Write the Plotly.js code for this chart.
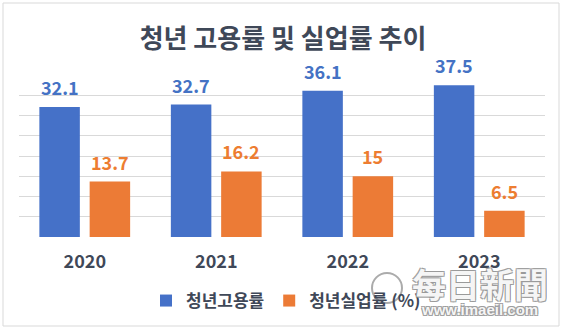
<!DOCTYPE html>
<html>
<head>
<meta charset="utf-8">
<script src="https://cdn.plot.ly/plotly-3.0.1.min.js"></script>
<style>
  html, body { margin: 0; padding: 0; background: #ffffff; }
  #chart { width: 566px; height: 331px; }
</style>
</head>
<body>
<div id="chart"></div>
<script>
// ---- data ----
const years = ['2020', '2021', '2022', '2023'];
const employmentRate = [32.1, 32.7, 36.1, 37.5];
const unemploymentRate = [13.7, 16.2, 15, 6.5];
const seriesNames = ['청년고용률', '청년실업률 (%)'];
const chartTitle = '청년 고용률 및 실업률 추이';

// ---- style ----
const KR = '"Noto Sans CJK KR", "Noto Sans", sans-serif';
const BLUE = '#4571c8';
const ORANGE = '#ec7b36';
const BLUE_TXT = '#4472c4';
const ORANGE_TXT = '#ed7d31';
const DARK = '#3f4858';
const W = 566, H = 331;
const M = {l: 19, r: 21, t: 75, b: 94};
const plotW = W - M.l - M.r, plotH = H - M.t - M.b;
const BARGAP = 0.235;
const slotShift = (1 - BARGAP) * (plotW / years.length) / 4;

const traces = [
  {type: 'bar', name: seriesNames[0], x: years, y: employmentRate,
   marker: {color: BLUE}, hoverinfo: 'skip'},
  {type: 'bar', name: seriesNames[1], x: years, y: unemploymentRate,
   marker: {color: ORANGE}, hoverinfo: 'skip'}
];

// value labels (category index on the category axis, shifted to each bar of the group)
const annotations = [];
years.forEach((yr, i) => {
  annotations.push({x: i, y: employmentRate[i], xref: 'x', yref: 'y',
    text: String(employmentRate[i]), showarrow: false, xshift: -slotShift, yshift: 20,
    yanchor: 'middle', font: {family: KR, size: 18, weight: 'bold', color: BLUE_TXT}});
  annotations.push({x: i, y: unemploymentRate[i], xref: 'x', yref: 'y',
    text: String(unemploymentRate[i]), showarrow: false, xshift: slotShift, yshift: 20,
    yanchor: 'middle', font: {family: KR, size: 18, weight: 'bold', color: ORANGE_TXT}});
});

// watermark
const px2x = p => (p - M.l) / plotW;
const px2y = p => (H - M.b - p) / plotH;
const wmShadow = '1px 1px 0 #9a9a9a, -1px -1px 0 #9a9a9a, 1px -1px 0 #9a9a9a, -1px 1px 0 #9a9a9a';
annotations.push({xref: 'paper', yref: 'paper', x: px2x(480), y: px2y(283), showarrow: false,
  text: '每日新聞', xanchor: 'center', yanchor: 'middle',
  font: {family: '"Noto Sans CJK TC", serif', size: 34, weight: 'bold', color: 'rgba(255,255,255,0.92)', shadow: wmShadow}});
annotations.push({xref: 'paper', yref: 'paper', x: px2x(479), y: px2y(309), showarrow: false,
  text: 'www.imaeil.com', xanchor: 'center', yanchor: 'middle',
  font: {family: '"Liberation Sans", Arial, sans-serif', size: 15, weight: 'bold', color: 'rgba(255,255,255,0.92)', shadow: wmShadow}});

const layout = {
  width: W, height: H,
  margin: M,
  paper_bgcolor: '#ffffff', plot_bgcolor: '#ffffff',
  barmode: 'group', bargap: BARGAP, bargroupgap: 0.195,
  title: {text: chartTitle, x: 0.5, xref: 'container', xanchor: 'center',
          y: 1 - 39 / H, yref: 'container', yanchor: 'middle',
          font: {family: KR, size: 26, weight: 'bold', color: DARK}},
  xaxis: {type: 'category', showgrid: false, showline: false, zeroline: false,
          ticks: '', ticklabelstandoff: 12,
          tickfont: {family: KR, size: 18, weight: 'bold', color: DARK}},
  yaxis: {range: [0, 40], dtick: 5, showticklabels: false, showline: false, zeroline: false,
          gridcolor: '#d9d9d9', gridwidth: 1},
  showlegend: true,
  legend: {orientation: 'h', x: px2x(286), xanchor: 'center', y: px2y(301), yanchor: 'middle',
           font: {family: KR, size: 17, weight: 'bold', color: DARK},
           bgcolor: 'rgba(0,0,0,0)', itemwidth: 30},
  annotations: annotations,
  shapes: [
    {type: 'rect', xref: 'paper', yref: 'paper', layer: 'below',
     x0: px2x(3), x1: px2x(559), y0: px2y(326), y1: px2y(3),
     line: {color: '#d9d9d9', width: 1}},
    {type: 'circle', xref: 'paper', yref: 'paper', layer: 'above',
     x0: px2x(372), x1: px2x(402), y0: px2y(303), y1: px2y(273),
     fillcolor: 'rgba(255,255,255,0.6)', line: {color: 'rgba(150,150,150,0.8)', width: 2}}
  ]
};

Plotly.newPlot('chart', traces, layout, {displayModeBar: false, staticPlot: true});
</script>
</body>
</html>
